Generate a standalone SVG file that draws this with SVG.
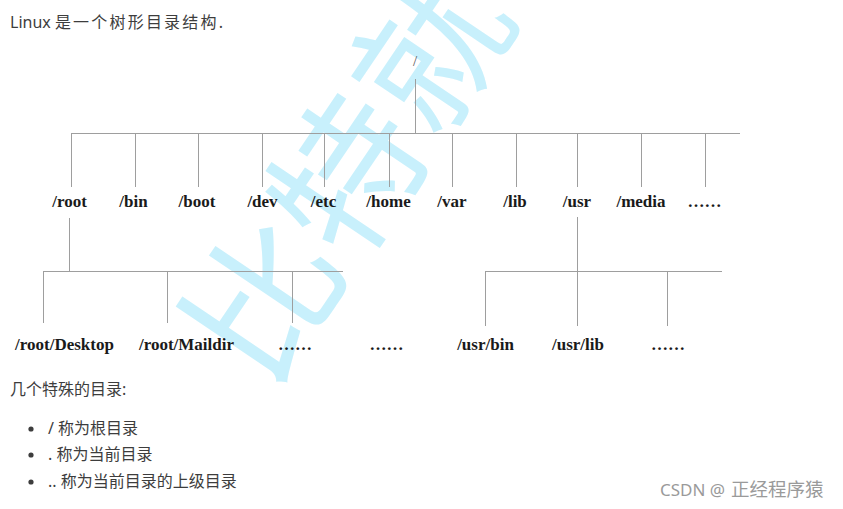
<svg xmlns="http://www.w3.org/2000/svg" width="843" height="509" viewBox="0 0 843 509">
<style>
.bg{fill:#ffffff}
.wm{font-family:"Noto Sans CJK SC",sans-serif;font-size:150px;fill:#c8f0fc}
.lbl{font-family:"Liberation Serif","Times New Roman",serif;font-size:17px;font-weight:bold;fill:#1a1a1a;text-anchor:middle}
.rootlbl{font-family:"Liberation Serif","Times New Roman",serif;font-size:15px;fill:#555555;text-anchor:middle}
.body{font-family:"Noto Sans","Noto Sans CJK SC",sans-serif;font-size:16px;fill:#3d3d3d}
.csdn{font-family:"Noto Sans","Noto Sans CJK SC",sans-serif;font-size:17px;fill:#9a9a9a}
.ln{stroke:#9e9e9e;stroke-width:1;fill:none}
</style>
<rect class="bg" x="0" y="0" width="843" height="509"/>
<text class="wm" transform="translate(268,392) rotate(-56)">比特就</text>
<text class="body" x="10" y="28">Linux <tspan letter-spacing="2.2">是一个树形目录结构</tspan>.</text>
<g id="connectors">
<path class="ln" d="M415.5 79V133.5M71 133.5H740M71.5 133.5V187M135.5 133.5V187M198.5 133.5V187M262.5 133.5V187M324.5 133.5V187M389.5 133.5V187M452.5 133.5V187M516.5 133.5V187M577.5 133.5V187M641.5 133.5V187M705.5 133.5V187"/>
<path class="ln" d="M69.5 218V271.5M43 271.5H343M43.5 271.5V323M167.5 271.5V323M292.5 271.5V323"/>
<path class="ln" d="M577.5 217V326M485 271.5H722M485.5 271.5V326M667.5 271.5V326"/>
</g>
<g id="n-root"><text class="rootlbl" x="415" y="66">/</text></g>
<g id="n-rootdir"><text class="lbl" x="69.5" y="207">/root</text></g>
<g id="n-bin"><text class="lbl" x="133.5" y="207">/bin</text></g>
<g id="n-boot"><text class="lbl" x="197" y="207">/boot</text></g>
<g id="n-dev"><text class="lbl" x="262.5" y="207">/dev</text></g>
<g id="n-etc"><text class="lbl" x="323.5" y="207">/etc</text></g>
<g id="n-home"><text class="lbl" x="388.5" y="207">/home</text></g>
<g id="n-var"><text class="lbl" x="452" y="207">/var</text></g>
<g id="n-lib"><text class="lbl" x="515" y="207">/lib</text></g>
<g id="n-usr"><text class="lbl" x="577" y="207">/usr</text></g>
<g id="n-media"><text class="lbl" x="641" y="207">/media</text></g>
<g id="n-more1"><text class="lbl" x="704.5" y="207">……</text></g>
<g id="n-desktop"><text class="lbl" x="64.5" y="350">/root/Desktop</text></g>
<g id="n-maildir"><text class="lbl" x="186.5" y="350">/root/Maildir</text></g>
<g id="n-more2"><text class="lbl" x="295" y="350">……</text></g>
<g id="n-more3"><text class="lbl" x="386.5" y="350">……</text></g>
<g id="n-usrbin"><text class="lbl" x="485.5" y="350">/usr/bin</text></g>
<g id="n-usrlib"><text class="lbl" x="578" y="350">/usr/lib</text></g>
<g id="n-more4"><text class="lbl" x="668" y="350">……</text></g>
<text class="body" x="10" y="395">几个特殊的目录:</text>
<g fill="#3d3d3d">
<circle cx="31" cy="429" r="2.6"/>
<circle cx="31" cy="455" r="2.6"/>
<circle cx="31" cy="482" r="2.6"/>
</g>
<text class="body" x="48" y="434">/ 称为根目录</text>
<text class="body" x="48" y="460">. 称为当前目录</text>
<text class="body" x="48" y="487">.. 称为当前目录的上级目录</text>
<text class="csdn" x="660" y="496">CSDN @<tspan x="731" font-size="18.5">正经程序猿</tspan></text>
</svg>
